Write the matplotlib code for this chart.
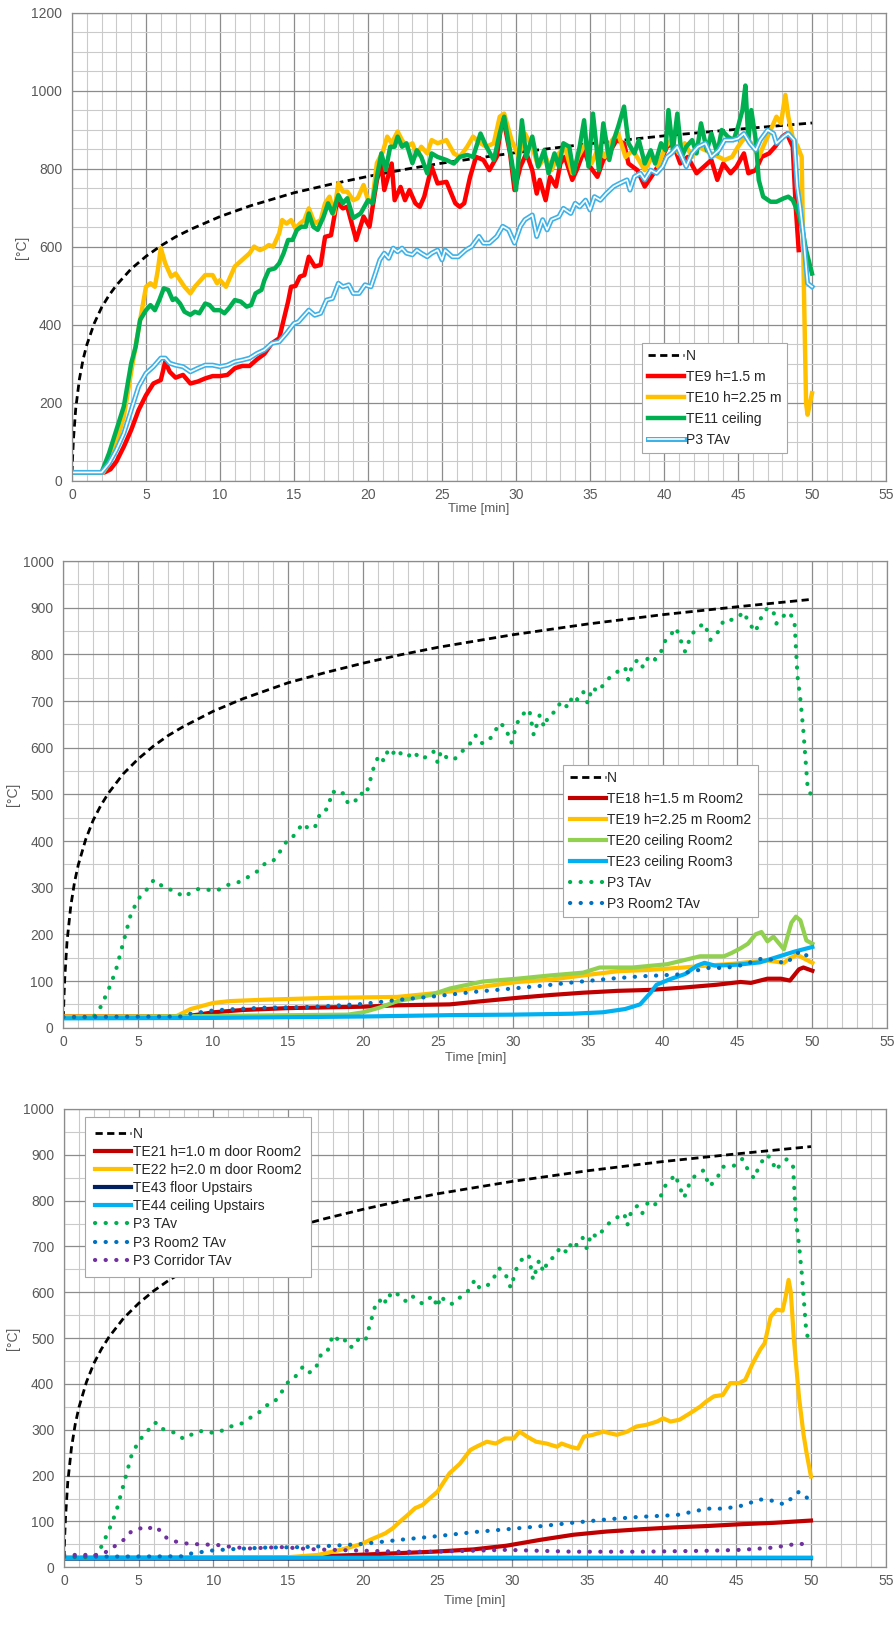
import matplotlib
matplotlib.use('Agg')
import matplotlib.pyplot as plt
import matplotlib.patheffects as pe
from matplotlib.ticker import MultipleLocator

plt.rcParams['font.family'] = ['Liberation Sans', 'DejaVu Sans']

# ---------------- data (time [min], temperature [°C]) ----------------
N_CURVE = [(0, 20), (0.05, 70), (0.1, 108), (0.25, 185), (0.5, 261), (0.75, 312), (1, 349),
           (1.5, 404), (2, 445), (2.5, 476), (3, 502), (4, 544), (5, 576), (6, 603), (7, 626),
           (8, 645), (10, 678), (12, 705), (15, 739), (17.5, 761), (20, 781), (22.5, 799),
           (25, 815), (30, 842), (35, 865), (40, 885), (45, 902), (50, 918)]

TE9 = [(0, 22), (2.2, 22), (2.6, 30), (3, 50), (3.5, 88), (4, 131), (4.5, 182), (5, 220), (5.5, 250),
       (6, 259), (6.3, 306), (6.6, 280), (7, 265), (7.5, 272), (8, 250), (8.5, 255), (9, 263),
       (9.5, 269), (10, 269), (10.5, 272), (11, 289), (11.5, 295), (12, 295), (12.5, 312), (13, 326),
       (13.5, 353), (14, 366), (14.3, 413), (14.6, 460), (14.8, 498), (15.1, 500), (15.4, 524),
       (15.7, 528), (16, 575), (16.4, 550), (16.8, 554), (17.1, 626), (17.5, 630), (17.9, 716),
       (18.3, 699), (18.6, 703), (19.2, 618), (19.7, 678), (20.1, 652), (20.6, 771), (20.9, 814),
       (21.1, 746), (21.6, 814), (21.8, 720), (22.2, 754), (22.5, 720), (22.8, 746), (23.2, 712),
       (23.5, 703), (23.8, 729), (24.3, 806), (24.7, 763), (25.3, 767), (25.9, 712), (26.2, 703),
       (26.5, 712), (26.9, 780), (27.3, 831), (27.8, 823), (28.2, 797), (28.7, 831), (29.1, 938),
       (29.6, 840), (29.9, 746), (30.3, 806), (30.7, 840), (31.1, 797), (31.4, 737), (31.6, 772),
       (32.0, 720), (32.3, 780), (32.7, 755), (33.0, 814), (33.3, 831), (33.8, 772), (34.1, 797),
       (34.6, 848), (35.0, 806), (35.5, 780), (35.9, 823), (36.4, 848), (36.8, 874), (37.3, 866),
       (37.6, 814), (38.2, 797), (38.7, 755), (39.3, 789), (39.7, 814), (40.2, 857), (40.6, 866),
       (41.1, 814), (41.6, 831), (42.2, 789), (42.7, 806), (43.2, 823), (43.6, 772), (44.0, 814),
       (44.5, 789), (44.9, 806), (45.4, 840), (45.7, 789), (46.2, 797), (46.6, 831), (47.1, 840),
       (47.5, 857), (48.0, 883), (48.3, 891), (48.7, 857), (48.9, 703), (49.1, 592)]

TE10 = [(0, 22), (2.1, 22), (2.5, 45), (3, 100), (3.5, 165), (4, 280), (4.5, 390), (5, 498), (5.3, 507),
        (5.6, 498), (5.8, 541), (6.0, 597), (6.3, 558), (6.7, 524), (7, 532), (7.3, 515), (7.6, 498),
        (8, 481), (8.3, 498), (8.7, 515), (9, 528), (9.5, 528), (9.8, 507), (10, 515), (10.4, 498),
        (10.7, 524), (11, 550), (11.5, 567), (12, 584), (12.3, 601), (12.7, 592), (13, 597), (13.3, 605),
        (13.6, 601), (14, 635), (14.2, 669), (14.5, 660), (14.8, 669), (15.1, 648), (15.4, 660),
        (15.7, 669), (16, 699), (16.4, 660), (16.8, 669), (17.1, 712), (17.4, 729), (17.7, 686),
        (18, 764), (18.3, 742), (18.6, 742), (19, 720), (19.3, 725), (19.7, 759), (20, 720), (20.3, 720),
        (20.6, 815), (21, 844), (21.3, 883), (21.6, 866), (22, 896), (22.3, 874), (22.6, 857), (23, 866),
        (23.3, 836), (23.6, 857), (24, 840), (24.3, 874), (24.7, 866), (25.3, 874), (25.8, 840),
        (26.2, 831), (26.7, 857), (27.1, 883), (27.6, 866), (28.0, 857), (28.5, 866), (28.9, 934),
        (29.2, 942), (29.7, 874), (30.2, 831), (30.6, 891), (31.1, 857), (31.5, 806), (32.0, 831),
        (32.4, 797), (32.9, 840), (33.3, 857), (33.8, 789), (34.2, 831), (34.7, 866), (35.1, 814),
        (35.6, 857), (36.0, 831), (36.5, 874), (36.9, 891), (37.4, 831), (37.9, 848), (38.3, 823),
        (38.7, 797), (39.2, 831), (39.6, 806), (40.1, 857), (40.5, 874), (41.0, 840), (41.4, 866),
        (41.9, 831), (42.3, 857), (42.8, 848), (43.2, 840), (43.7, 831), (44.1, 823), (44.6, 831),
        (45.0, 857), (45.5, 883), (45.9, 866), (46.4, 831), (46.8, 866), (47.3, 908), (47.6, 934),
        (47.9, 917), (48.2, 990), (48.4, 934), (48.7, 880), (49.0, 860), (49.3, 831), (49.45, 500),
        (49.6, 200), (49.7, 170), (50.0, 225)]

TE11 = [(0, 22), (2.0, 22), (2.5, 71), (3, 131), (3.5, 191), (4, 302), (4.3, 344), (4.6, 413), (5, 438),
        (5.3, 451), (5.6, 438), (5.9, 464), (6.2, 494), (6.5, 490), (6.8, 464), (7, 468), (7.3, 455),
        (7.6, 434), (8, 426), (8.3, 434), (8.6, 430), (9, 455), (9.3, 451), (9.6, 438), (10, 438),
        (10.3, 430), (10.6, 443), (11, 464), (11.4, 460), (11.8, 447), (12.1, 451), (12.4, 481),
        (12.8, 490), (13, 515), (13.3, 541), (13.7, 545), (14, 558), (14.3, 584), (14.6, 618),
        (14.9, 618), (15.2, 644), (15.5, 652), (15.8, 652), (16, 686), (16.3, 652), (16.6, 644),
        (17, 678), (17.3, 712), (17.6, 686), (18, 733), (18.3, 712), (18.6, 725), (19, 674), (19.5, 686),
        (20, 720), (20.3, 712), (20.6, 780), (20.9, 840), (21.2, 797), (21.5, 857), (21.8, 857),
        (22, 883), (22.3, 857), (22.6, 866), (23, 815), (23.3, 848), (23.6, 831), (24, 789), (24.3, 840),
        (24.7, 831), (25.3, 823), (25.8, 814), (26.2, 831), (26.7, 836), (27.1, 831), (27.6, 891),
        (28.0, 857), (28.5, 823), (28.9, 891), (29.2, 934), (29.7, 823), (30.0, 746), (30.4, 925),
        (30.7, 831), (31.1, 883), (31.5, 806), (31.9, 848), (32.2, 789), (32.6, 840), (32.9, 806),
        (33.2, 866), (33.6, 857), (33.9, 789), (34.3, 857), (34.6, 925), (34.9, 806), (35.2, 942),
        (35.6, 797), (35.9, 917), (36.3, 823), (36.6, 874), (36.9, 908), (37.3, 960), (37.6, 866),
        (38.0, 840), (38.3, 874), (38.7, 814), (39.1, 848), (39.4, 814), (39.8, 866), (40.1, 848),
        (40.3, 951), (40.6, 848), (40.9, 942), (41.2, 831), (41.5, 857), (41.9, 874), (42.2, 840),
        (42.5, 917), (42.9, 848), (43.2, 891), (43.6, 840), (43.9, 900), (44.3, 883), (44.7, 874),
        (45.0, 908), (45.3, 951), (45.5, 1014), (45.7, 874), (45.9, 951), (46.2, 874), (46.4, 772),
        (46.7, 729), (47.2, 716), (47.6, 716), (48.1, 725), (48.4, 729), (48.7, 720), (49.1, 686),
        (49.4, 635), (49.6, 592), (50.0, 532)]

P3_TAV = [(0, 22), (2.0, 22), (2.5, 45), (3, 80), (3.5, 122), (4, 182), (4.5, 242), (5, 276), (5.5, 293),
          (6, 315), (6.3, 315), (6.6, 302), (7, 297), (7.5, 293), (8, 280), (8.5, 289), (9, 297),
          (9.5, 297), (10, 293), (10.5, 297), (11, 306), (11.5, 310), (12, 315), (12.5, 327), (13, 336),
          (13.5, 353), (14, 357), (14.5, 379), (15, 404), (15.3, 408), (15.6, 421), (16, 438),
          (16.4, 425), (16.8, 430), (17.2, 464), (17.6, 468), (18, 507), (18.3, 498), (18.7, 503),
          (19, 481), (19.4, 481), (19.8, 503), (20.2, 498), (20.5, 532), (20.8, 567), (21.1, 584),
          (21.4, 571), (21.7, 597), (22, 588), (22.3, 597), (22.6, 584), (23, 580), (23.3, 592),
          (23.6, 584), (24, 575), (24.3, 584), (24.7, 592), (25.0, 567), (25.2, 592), (25.7, 575),
          (26.1, 575), (26.6, 592), (27.0, 601), (27.5, 627), (27.8, 610), (28.2, 610), (28.7, 627),
          (29.1, 653), (29.5, 644), (29.9, 610), (30.3, 653), (30.6, 670), (31.1, 682), (31.4, 627),
          (31.8, 670), (32.1, 644), (32.4, 670), (32.9, 678), (33.2, 699), (33.7, 686), (34.0, 712),
          (34.3, 703), (34.7, 720), (35.0, 695), (35.3, 729), (35.7, 720), (36.1, 737), (36.6, 755),
          (37.0, 763), (37.5, 772), (37.7, 746), (38.0, 780), (38.4, 789), (38.7, 772), (39.1, 797),
          (39.5, 789), (39.9, 806), (40.2, 831), (40.5, 840), (40.9, 857), (41.2, 831), (41.5, 806),
          (41.9, 840), (42.3, 857), (42.8, 866), (43.2, 831), (43.7, 848), (44.1, 874), (44.6, 874),
          (45.0, 878), (45.4, 891), (45.8, 866), (46.2, 848), (46.5, 874), (47.0, 900), (47.4, 891),
          (47.6, 866), (48.1, 883), (48.4, 891), (48.8, 874), (49.0, 755), (49.2, 703), (49.4, 635),
          (49.7, 507), (50.0, 498)]

TE18 = [(0, 24), (8, 24), (9, 28), (10, 33), (12, 38), (15, 42), (20, 45), (22.3, 48), (25.8, 50), (28, 57),
        (30.3, 64), (32.5, 70), (34.7, 75), (37, 79), (39.2, 81), (41.4, 86), (43.6, 92), (45.2, 98),
        (45.9, 96), (47, 105), (47.9, 105), (48.5, 101), (49.1, 125), (49.4, 129), (50, 122)]

TE19 = [(0, 24), (7.5, 24), (8.5, 40), (10, 53), (11.1, 57), (13.4, 60), (17.8, 64), (22.3, 66),
        (24.5, 73), (26.7, 81), (28, 88), (30.3, 98), (32.5, 103), (34.7, 112), (37, 121), (39.2, 124),
        (41.4, 129), (42.5, 132), (44.7, 137), (45.9, 141), (47, 144), (48.1, 139), (48.5, 149),
        (49, 156), (49.4, 149), (50, 139)]

TE20 = [(0, 22), (19, 28), (20, 33), (21.1, 43), (22.3, 57), (24.5, 70), (25.8, 84), (28, 99), (30.3, 105),
        (32.5, 112), (34.7, 118), (35.8, 129), (38, 129), (40.3, 136), (42.5, 153), (44.1, 153),
        (44.6, 160), (45.2, 170), (45.7, 180), (46.2, 200), (46.6, 205), (47.0, 185), (47.4, 195),
        (48.1, 168), (48.6, 225), (48.9, 238), (49.2, 230), (49.6, 187), (50, 180)]

TE23 = [(0, 20), (10, 21), (20, 24), (26, 27), (30, 28), (34, 30), (36, 33), (37.5, 40), (38.5, 50),
        (39.2, 75), (39.6, 92), (40.5, 104), (41.5, 115), (42.3, 133), (42.8, 139), (43.5, 133),
        (45, 135), (46.5, 140), (47.5, 150), (48.8, 163), (50, 173)]

P3_ROOM2_TAV = [(0, 23), (8, 24), (8.5, 30), (10, 37), (11.5, 40), (13.5, 43), (16, 44), (18, 47), (20, 51),
                (22.5, 60), (25, 68), (27.5, 77), (30, 84), (32, 90), (34, 97), (36.5, 105), (38.5, 110),
                (41, 114), (42.2, 122), (43, 128), (44.2, 128), (45.3, 134), (46.6, 148), (47.5, 145),
                (48.2, 137), (48.6, 148), (49.2, 165), (49.8, 150)]

TE21 = [(0, 22), (17, 22), (18, 25), (20.3, 28), (22.5, 31), (24.7, 34), (27.4, 39), (29.6, 47), (31.9, 60),
        (34.1, 71), (36.3, 78), (38.6, 83), (40.8, 87), (43, 90), (45.3, 94), (47.5, 97), (50, 102)]

TE22 = [(0, 22), (15, 22), (17, 27), (18.5, 38), (19.5, 47), (20, 52), (20.5, 60), (21, 67), (21.5, 74),
        (22, 85), (22.5, 100), (23, 114), (23.5, 129), (24, 136), (24.5, 151), (25, 165), (25.8, 205),
        (26.5, 226), (27.2, 256), (27.6, 263), (28.3, 274), (28.9, 270), (29.5, 281), (30.1, 281),
        (30.5, 296), (31.0, 285), (31.6, 274), (32.3, 270), (33.0, 263), (33.3, 270), (33.9, 263),
        (34.4, 259), (34.8, 285), (35.4, 289), (36.1, 296), (37.0, 289), (37.7, 296), (38.3, 307),
        (39.0, 311), (39.7, 318), (40.1, 325), (40.6, 318), (41.2, 322), (41.9, 336), (42.6, 351),
        (43.0, 362), (43.5, 373), (44.1, 376), (44.6, 402), (45.2, 402), (45.6, 409), (46.1, 445),
        (46.6, 475), (46.9, 489), (47.3, 547), (47.7, 562), (48.1, 560), (48.3, 590), (48.5, 627),
        (48.65, 600), (48.85, 500), (49.2, 370), (49.5, 290), (49.7, 250), (50.0, 198)]

TE43 = [(0, 19), (20, 19), (40, 20), (50, 20)]
TE44 = [(0, 20), (25, 21), (50, 21)]

P3_CORRIDOR_TAV = [(0, 27), (2.4, 27), (3.1, 38), (3.5, 49), (4, 60), (4.5, 78), (5.1, 85), (5.5, 81),
                   (6.0, 90), (6.4, 81), (6.9, 63), (7.5, 56), (8.2, 52), (9.1, 50), (10.2, 49),
                   (11.3, 44), (12.5, 41), (13.6, 43), (14.7, 44), (15.8, 41), (16.9, 39), (18.0, 38),
                   (20.3, 36), (22.5, 34), (24.7, 34), (29.6, 38), (34.1, 34), (38.6, 34), (43, 36),
                   (45.3, 38), (47.5, 43), (49.2, 52), (49.7, 49)]

# ---------------- styles ----------------
C_RED = '#FF0000'
C_YEL = '#FFC000'
C_GRN = '#00B050'
C_DRED = '#C00000'
C_LGRN = '#92D050'
C_CYAN = '#00B0F0'
C_NAVY = '#002060'
C_BLUE = '#0070C0'
C_PURP = '#7030A0'
TXT = '#595959'

fig = plt.figure(figsize=(8.95, 16.28), dpi=100)
ax1 = fig.add_axes([0.08045, 0.70455, 0.9095, 0.28747])
ax2 = fig.add_axes([0.07073, 0.36873, 0.92067, 0.28667])
ax3 = fig.add_axes([0.07151, 0.03729, 0.91810, 0.28151])


def xy(series):
    t, v = zip(*series)
    return list(t), list(v)


def style(ax, ymax, ymajor, yminor, ylab_x, xlab_y):
    ax.set_xlim(0, 55)
    ax.set_ylim(0, ymax)
    ax.xaxis.set_major_locator(MultipleLocator(5))
    ax.xaxis.set_minor_locator(MultipleLocator(1))
    ax.yaxis.set_major_locator(MultipleLocator(ymajor))
    ax.yaxis.set_minor_locator(MultipleLocator(yminor))
    ax.grid(which='minor', color='#cacaca', lw=0.8)
    ax.grid(which='major', color='#8c8c8c', lw=0.9)
    ax.set_axisbelow(True)
    ax.tick_params(which='both', length=0)
    ax.tick_params(axis='x', pad=5, labelsize=10, labelcolor=TXT)
    ax.tick_params(axis='y', pad=7, labelsize=10, labelcolor=TXT)
    for s in ax.spines.values():
        s.set_color('#8c8c8c')
        s.set_linewidth(0.9)
    ax.set_ylabel('[°C]', fontsize=10, color=TXT)
    ax.yaxis.set_label_coords(ylab_x, 0.5)
    ax.yaxis.label.set_va('center')
    ax.set_xlabel('Time [min]', fontsize=9.5, color=TXT)
    ax.xaxis.set_label_coords(0.5, xlab_y)
    ax.xaxis.label.set_va('center')


def plot_n(ax):
    ln, = ax.plot(*xy(N_CURVE), color='black', lw=2.0, label='N')
    ln.set_dashes((2.6, 1.6))


def dotted(ax, series, color, label):
    ax.plot(*xy(series), color=color, lw=3.0, linestyle=(0, (0.05, 2.5)),
            dash_capstyle='round', label=label)


def legend(ax, anchor, spacing, pad):
    leg = ax.legend(loc='upper left', bbox_to_anchor=anchor, fontsize=10, frameon=True,
                    fancybox=False, edgecolor='#a6a6a6', framealpha=1, handlelength=2.6,
                    handletextpad=0.1, labelspacing=spacing, borderpad=pad, borderaxespad=0)
    leg.get_frame().set_linewidth(0.8)
    for t in leg.get_texts():
        t.set_color('#262626')
    return leg


# ---------- panel 1 ----------
style(ax1, 1200, 200, 50, -0.0618, -0.060)
plot_n(ax1)
ax1.plot(*xy(TE9), color=C_RED, lw=3.2, label='TE9 h=1.5 m')
ax1.plot(*xy(TE10), color=C_YEL, lw=3.2, label='TE10 h=2.25 m')
ax1.plot(*xy(TE11), color=C_GRN, lw=3.2, label='TE11 ceiling')
ax1.plot(*xy(P3_TAV), color='white', lw=1.2, label='P3 TAv',
         path_effects=[pe.Stroke(linewidth=3.6, foreground='#3DB2E8'), pe.Normal()])
legend(ax1, (0.700, 0.295), 0.5, 0.45)

# ---------- panel 2 ----------
style(ax2, 1000, 100, 50, -0.0607, -0.064)
plot_n(ax2)
ax2.plot(*xy(TE18), color=C_DRED, lw=3.0, label='TE18 h=1.5 m Room2')
ax2.plot(*xy(TE19), color=C_YEL, lw=3.0, label='TE19 h=2.25 m Room2')
ax2.plot(*xy(TE20), color=C_LGRN, lw=3.0, label='TE20 ceiling Room2')
ax2.plot(*xy(TE23), color=C_CYAN, lw=3.0, label='TE23 ceiling Room3')
dotted(ax2, P3_TAV, C_GRN, 'P3 TAv')
dotted(ax2, P3_ROOM2_TAV, C_BLUE, 'P3 Room2 TAv')
legend(ax2, (0.607, 0.563), 0.5, 0.45)

# ---------- panel 3 ----------
style(ax3, 1000, 100, 50, -0.0617, -0.0746)
plot_n(ax3)
ax3.plot(*xy(TE21), color=C_DRED, lw=3.0, label='TE21 h=1.0 m door Room2')
ax3.plot(*xy(TE22), color=C_YEL, lw=3.0, label='TE22 h=2.0 m door Room2')
ax3.plot(*xy(TE43), color=C_NAVY, lw=3.0, label='TE43 floor Upstairs')
ax3.plot(*xy(TE44), color=C_CYAN, lw=3.0, label='TE44 ceiling Upstairs')
dotted(ax3, P3_TAV, C_GRN, 'P3 TAv')
dotted(ax3, P3_ROOM2_TAV, C_BLUE, 'P3 Room2 TAv')
dotted(ax3, P3_CORRIDOR_TAV, C_PURP, 'P3 Corridor TAv')
legend(ax3, (0.026, 0.983), 0.3, 0.7)

fig.savefig('out.png', dpi=100, facecolor='white')
